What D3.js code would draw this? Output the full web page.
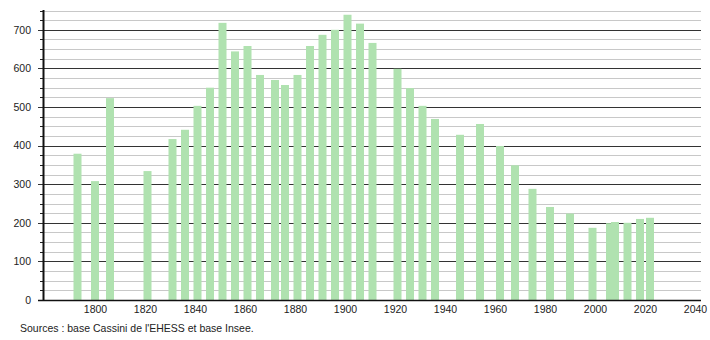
<!DOCTYPE html>
<html>
<head>
<meta charset="utf-8">
<script src="https://cdn.jsdelivr.net/npm/d3@7"></script>
<style>
  body { margin: 0; background: #fff; }
  svg { display: block; font-family: "Liberation Sans", Arial, sans-serif; }
</style>
</head>
<body>
<svg id="svg1" width="710" height="340"></svg>
<script>
// census years and population
var years = [1793, 1800, 1806, 1821, 1831, 1836, 1841, 1846, 1851, 1856, 1861, 1866, 1872, 1876,
    1881, 1886, 1891, 1896, 1901, 1906, 1911, 1921, 1926, 1931, 1936, 1946, 1954, 1962, 1968,
    1975, 1982, 1990, 1999, 2006, 2008, 2013, 2018, 2022];
var population = [379, 308, 523, 334, 417, 441, 503, 550, 718, 644, 658, 583, 570, 557,
    583, 658, 687, 700, 739, 716, 666, 599, 549, 503, 469, 428, 456, 399, 349,
    288, 241, 224, 187, 199, 202, 200, 210, 213];
var xTicks = [1800, 1820, 1840, 1860, 1880, 1900, 1920, 1940, 1960, 1980, 2000, 2020, 2040];
var yTicks = [0, 100, 200, 300, 400, 500, 600, 700];
var sourceText = "Sources : base Cassini de l'EHESS et base Insee.";

var svg = d3.select('svg');

var plotLeft = 43, plotRight = 701, plotBottom = 300, plotTop = 10;
var fontSize = 10.5;

var x = d3.scaleLinear().domain([1780, 2040]).range([45, 695]);
var y = d3.scaleLinear().domain([0, 750]).range([plotBottom, plotTop + 0.5]);

var data = years.map(function(d, i){ return {year: d, pop: population[i]}; });

function py(v) { return Math.round(y(v)) + 0.5; }

// minor grid every 25
svg.append('g')
    .selectAll('line')
    .data(d3.range(25, 751, 25).filter(function(v){ return v % 100 != 0; }))
    .enter()
    .append('line')
    .attr('x1', plotLeft).attr('x2', plotRight)
    .attr('y1', py).attr('y2', py)
    .attr('stroke', '#c8c8c8')
    .attr('stroke-width', 1);

// minor ticks on the left
svg.append('g')
    .selectAll('line')
    .data(d3.range(25, 751, 25))
    .enter()
    .append('line')
    .attr('x1', 40).attr('x2', plotLeft)
    .attr('y1', py).attr('y2', py)
    .attr('stroke', '#222');

// major grid every 100
svg.append('g')
    .selectAll('line')
    .data(yTicks.slice(1))
    .enter()
    .append('line')
    .attr('x1', 38).attr('x2', plotRight)
    .attr('y1', py).attr('y2', py)
    .attr('stroke', '#333')
    .attr('stroke-width', 1);

// bars
svg.append('g')
    .selectAll('rect')
    .data(data)
    .enter()
    .append('rect')
    .attr('x', function(d){ return x(d.year) - 4; })
    .attr('width', 8)
    .attr('y', function(d){ return y(d.pop); })
    .attr('height', function(d){ return plotBottom - y(d.pop); })
    .attr('fill', '#b0e2b0');

// y axis
var yAxis = svg.append('g')
    .attr('transform', 'translate(' + plotLeft + ',0)')
    .call(d3.axisLeft(y).tickValues(yTicks).tickSize(0).tickPadding(12).tickFormat(d3.format('d')));
yAxis.select('.domain').remove();
yAxis.selectAll('text')
    .attr('font-size', fontSize)
    .attr('font-family', '"Liberation Sans", Arial, sans-serif')
    .attr('fill', '#222');

svg.append('line')
    .attr('x1', plotLeft + 0.5).attr('x2', plotLeft + 0.5)
    .attr('y1', plotTop).attr('y2', plotBottom + 1)
    .attr('stroke', '#111').attr('stroke-width', 2);

// x axis
var xAxis = svg.append('g')
    .attr('transform', 'translate(0,' + plotBottom + ')')
    .call(d3.axisBottom(x).tickValues(xTicks).tickSize(0).tickPadding(6).tickFormat(d3.format('d')));
xAxis.select('.domain').remove();
xAxis.selectAll('text')
    .attr('font-size', fontSize)
    .attr('font-family', '"Liberation Sans", Arial, sans-serif')
    .attr('fill', '#222');

svg.append('line')
    .attr('x1', 38).attr('x2', plotRight)
    .attr('y1', plotBottom + 0.5).attr('y2', plotBottom + 0.5)
    .attr('stroke', '#111').attr('stroke-width', 1.5);

svg.append('text')
    .attr('x', 20)
    .attr('y', 332)
    .attr('font-size', fontSize)
    .attr('fill', '#222')
    .text(sourceText);
</script>
</body>
</html>
